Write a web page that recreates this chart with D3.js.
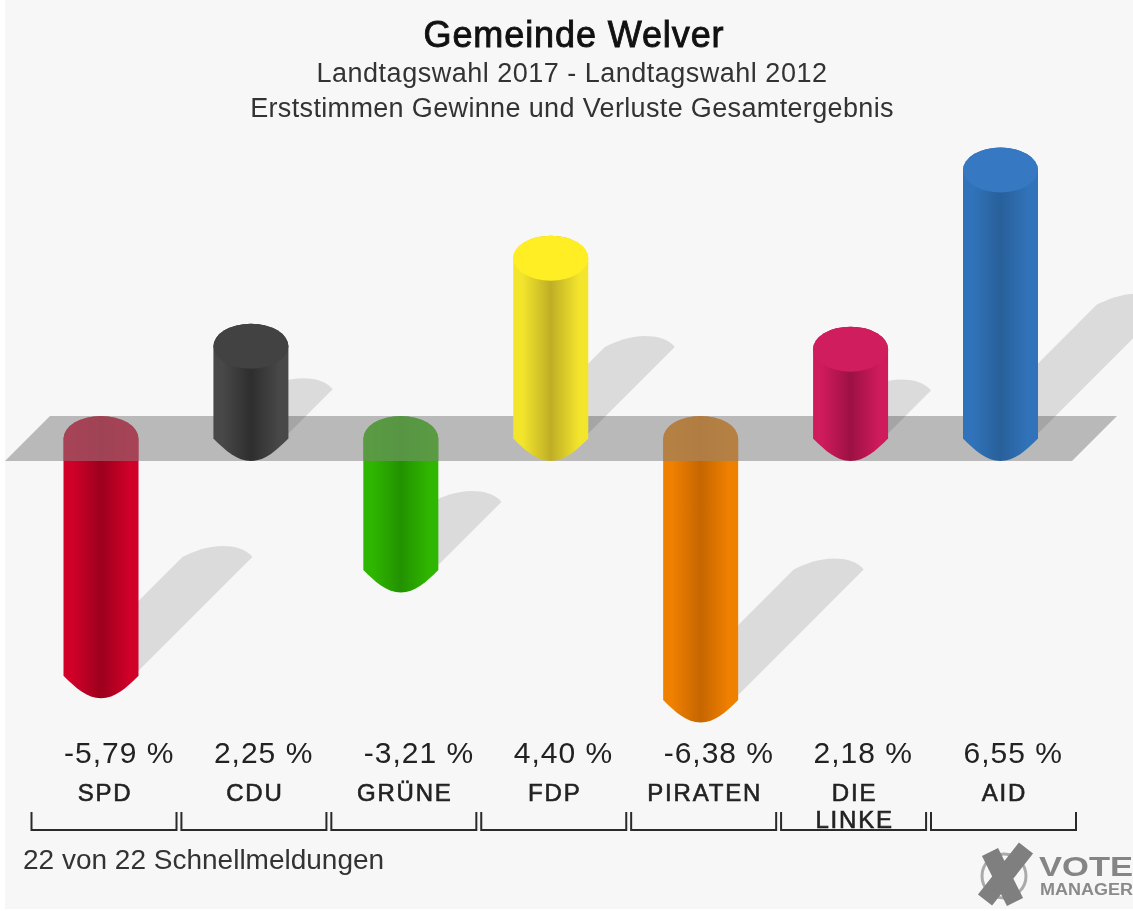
<!DOCTYPE html>
<html lang="de">
<head>
<meta charset="UTF-8">
<title>Gemeinde Welver</title>
<script src="https://d3js.org/d3.v7.min.js"></script>
<style>
  html, body { margin: 0; padding: 0; background: #fff; }
  svg { display: block; font-family: "Liberation Sans", Arial, sans-serif; }
  .blur { filter: blur(0.5px); }
</style>
</head>
<body>
<script>
// chart values
const categories = ["SPD", "CDU", "GRÜNE", "FDP", "PIRATEN", "DIE LINKE", "AID"];
const values = [-5.79, 2.25, -3.21, 4.40, -6.38, 2.18, 6.55];
const valueLabels = ["-5,79 %", "2,25 %", "-3,21 %", "4,40 %", "-6,38 %", "2,18 %", "6,55 %"];
const edgeColors = ["#d00029", "#484848", "#2fb600", "#f3e52c", "#f08000", "#cf1b5b", "#3173ba"];
const midColors = ["#9c001c", "#2e2e2e", "#229200", "#bfae26", "#c56600", "#9c1143", "#28609a"];
const capColors = ["#d00029", "#424242", "#2fb600", "#ffee24", "#f08000", "#d01d5d", "#3678c2"];
const titles = ["Gemeinde Welver", "Landtagswahl 2017 - Landtagswahl 2012", "Erststimmen Gewinne und Verluste Gesamtergebnis"];
const footer = "22 von 22 Schnellmeldungen";

const width = 1133, height = 911;
const r = 37.5, ry = 22.5;

const x = d3.scalePoint().domain(categories).range([101, 1000.5]);
const y = d3.scaleLinear().domain([0, 6.55]).range([438.5, 170]);
const shadowLen = d => Math.abs(y(d) - y(0)) * 0.48;

const svg = d3.select("body").append("svg")
    .attr("width", width)
    .attr("height", height);

svg.append("rect").attr("x", 5).attr("y", 0)
    .attr("width", width - 5).attr("height", 909)
    .attr("fill", "#f7f7f7");

const chart = svg.append("g").attr("class", "blur");

const defs = svg.append("defs");
categories.forEach((c, i) => {
    const g = defs.append("linearGradient").attr("id", "grad" + i);
    [[0, edgeColors[i]], [12, edgeColors[i]], [50, midColors[i]], [88, edgeColors[i]], [100, edgeColors[i]]]
        .forEach(s => g.append("stop").attr("offset", s[0] + "%").attr("stop-color", s[1]));
});

const rows = categories.map((c, i) => ({c, i, v: values[i]}));
const neg = rows.filter(d => d.v < 0);
const pos = rows.filter(d => d.v >= 0);

function barPath(d) {
    const cx = x(d.c);
    const top = Math.min(y(d.v), y(0)), bot = Math.max(y(d.v), y(0));
    return `M${cx - r},${top} A${r},${ry} 0 0 1 ${cx + r},${top} L${cx + r},${bot}
        C${cx + r - 12},${bot + 12} ${cx + 14},${bot + ry} ${cx},${bot + ry}
        C${cx - 14},${bot + ry} ${cx - r + 12},${bot + 12} ${cx - r},${bot} Z`;
}

function shadowPath(d) {
    const s = shadowLen(d.v);
    const x0 = x(d.c) + r, y0 = Math.max(y(d.v), y(0)) - 5;
    const tx = x0 + s, ty = y0 - s;
    return `M${x0},${y0} L${tx},${ty}
        C${tx - 6},${ty - 8} ${tx - 18},${ty - 11} ${tx - 30},${ty - 11}
        C${tx - 45},${ty - 11} ${tx - 58},${ty - 6} ${tx - 70},${ty}
        L${x0 - 70},${y0} Z`;
}

function drawShadows(data) {
    chart.append("g").selectAll("path").data(data).join("path")
        .attr("d", shadowPath)
        .attr("fill", "#000")
        .attr("fill-opacity", 0.11);
}

function drawBars(data) {
    chart.append("g").selectAll("path").data(data).join("path")
        .attr("d", barPath)
        .attr("fill", d => `url(#grad${d.i})`);
}

// negative bars sit under the band, positive ones on top of it
drawShadows(neg);
drawBars(neg);

const y0 = y(0);

// flat top of the negative bars, seen through the band
chart.append("g").selectAll("path").data(neg).join("path")
    .attr("d", d => {
        const cx = x(d.c);
        return `M${cx - r},${y0} A${r},${ry} 0 0 1 ${cx + r},${y0} V${y0 + ry} H${cx - r} Z`;
    })
    .attr("fill", d => capColors[d.i])
    .attr("fill-opacity", 0.7);

chart.append("path")
    .attr("d", `M5,${y0 + ry} L50,${y0 - ry} L1117,${y0 - ry} L1072,${y0 + ry} Z`)
    .attr("fill", "#808080")
    .attr("fill-opacity", 0.52);

drawShadows(pos);
drawBars(pos);

chart.append("g").selectAll("ellipse").data(pos).join("ellipse")
    .attr("cx", d => x(d.c))
    .attr("cy", d => y(d.v))
    .attr("rx", r)
    .attr("ry", ry)
    .attr("fill", d => capColors[d.i]);

// titles
const titleX = [574, 572, 572];
const titleY = [47, 82, 117];
const titleSize = [36, 27, 27];
const titleSpacing = [0.9, 0.5, 0.35];
chart.append("g").selectAll("text").data(titles).join("text")
    .attr("x", (d, i) => titleX[i])
    .attr("y", (d, i) => titleY[i])
    .attr("text-anchor", "middle")
    .attr("font-size", (d, i) => titleSize[i])
    .attr("letter-spacing", (d, i) => titleSpacing[i])
    .attr("stroke", (d, i) => i === 0 ? "#111" : "none")
    .attr("stroke-width", 0.9)
    .attr("fill", (d, i) => i === 0 ? "#111" : "#333")
    .text(d => d);

// value labels
chart.append("g").selectAll("text").data(rows).join("text")
    .attr("x", d => x(d.c) - 37)
    .attr("y", 763)
    .attr("font-size", 30)
    .attr("letter-spacing", 1)
    .attr("fill", "#222")
    .text(d => valueLabels[d.i]);

// category labels
const catLabels = chart.append("g").selectAll("text").data(rows).join("text")
    .attr("x", d => x(d.c) + 4)
    .attr("y", 801)
    .attr("text-anchor", "middle")
    .attr("font-size", 24)
    .attr("letter-spacing", 1.8)
    .attr("stroke", "#222")
    .attr("stroke-width", 0.6)
    .attr("fill", "#222");

catLabels.each(function(d) {
    const parts = d.c.split(" ");
    d3.select(this).selectAll("tspan").data(parts).join("tspan")
        .attr("x", x(d.c) + 4)
        .attr("dy", (p, k) => k === 0 ? 0 : 27)
        .text(p => p);
});

// brackets under the categories
chart.append("g").selectAll("path").data(rows).join("path")
    .attr("d", d => `M${x(d.c) - 69.5},812 V830 H${x(d.c) + 75.5} V812`)
    .attr("fill", "none")
    .attr("stroke", "#2a2a2a")
    .attr("stroke-width", 2);

chart.append("text")
    .attr("x", 23)
    .attr("y", 869)
    .attr("font-size", 28)
    .attr("fill", "#333")
    .text(footer);

// vote manager logo
const logo = chart.append("g");
logo.append("circle").attr("cx", 1004).attr("cy", 876).attr("r", 22)
    .attr("fill", "none").attr("stroke", "#aaa").attr("stroke-width", 3);
logo.append("path").attr("d", "M990,852 L1015,902 M1026,848 L985,900")
    .attr("stroke", "#7f7f7f").attr("stroke-width", 18).attr("fill", "none");
logo.append("text").attr("x", 1039).attr("y", 876)
    .attr("font-size", 28).attr("font-weight", "bold").attr("fill", "#858585")
    .attr("textLength", 94).attr("lengthAdjust", "spacingAndGlyphs").text("VOTE");
logo.append("text").attr("x", 1040).attr("y", 895)
    .attr("font-size", 16).attr("font-weight", "bold").attr("fill", "#8a8a8a")
    .attr("textLength", 93).attr("lengthAdjust", "spacingAndGlyphs").text("MANAGER");
</script>
</body>
</html>
